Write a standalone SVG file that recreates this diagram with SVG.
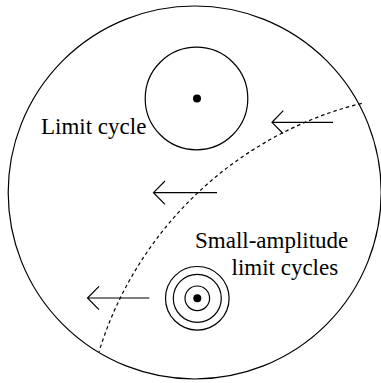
<svg xmlns="http://www.w3.org/2000/svg" width="381" height="383" viewBox="0 0 381 383">
<style>
.ln{fill:none;stroke:#000;stroke-width:1.2}
.dot{fill:#000;stroke:none}
</style>
<rect width="381" height="383" fill="#fff"/>
<g id="boundary"><circle class="ln" cx="194.7" cy="192.5" r="186.5" stroke-width="1.5"/></g>
<g id="limit-cycle">
<circle class="ln" cx="196.5" cy="98.5" r="51.3"/>
<circle class="dot" cx="197" cy="98.5" r="4"/>
<text x="41" y="134" font-size="23" font-family="serif" fill="#000">Limit cycle</text>
</g>
<g id="small-cycles">
<circle class="ln" cx="197.3" cy="298.3" r="31.8"/>
<circle class="ln" cx="197.3" cy="298.3" r="24"/>
<circle class="ln" cx="197.3" cy="298.3" r="12.3"/>
<circle class="dot" cx="197.3" cy="298.3" r="4"/>
<text x="195" y="247.7" font-size="23" font-family="serif" fill="#000">Small-amplitude</text>
<text x="231.5" y="274.5" font-size="23" font-family="serif" fill="#000">limit cycles</text>
</g>
<g id="connectors">
<path class="ln" d="M361.7 103.3 A367 367 0 0 0 99 351.7" stroke-dasharray="3.5 3"/>
<path class="ln" d="M333 122.3 H272 M283.3 110.7 L272 122.3 L283 133.5"/>
<path class="ln" d="M217 192.7 H153.5 M165 181 L153.5 192.7 L165 204.4"/>
<path class="ln" d="M149.3 298 H87.5 M99 286.3 L87.5 298 L99 309.7"/>
</g>
</svg>
